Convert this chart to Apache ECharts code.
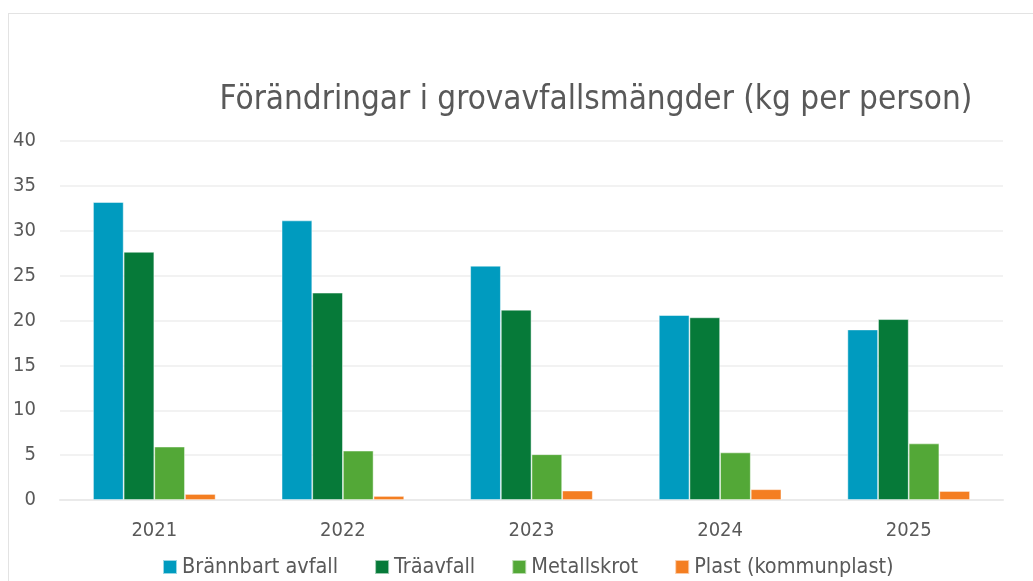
<!DOCTYPE html>
<html>
<head>
<meta charset="utf-8">
<script src="https://cdn.jsdelivr.net/npm/echarts@6/dist/echarts.min.js"></script>
<style>
    html, body { margin: 0; padding: 0; background: #fff; }
    #frame {
        position: absolute; left: 8px; top: 13px;
        width: 1100px; height: 620px;
        border: 1px solid #e3e3e3;
        box-sizing: border-box;
    }
    #chart { position: absolute; left: 0; top: 0; width: 1033px; height: 581px; }
</style>
</head>
<body>
<div id="frame"></div>
<div id="chart"></div>
<script>
var years = ['2021', '2022', '2023', '2024', '2025'];
var seriesNames = ['Brännbart avfall', 'Träavfall', 'Metallskrot', 'Plast (kommunplast)'];
var brannbart = [33.2, 31.15, 26.1, 20.6, 19.0];
var traavfall = [27.65, 23.1, 21.2, 20.35, 20.15];
var metallskrot = [5.95, 5.5, 5.1, 5.3, 6.3];
var plast = [0.67, 0.45, 1.05, 1.2, 1.0];
var yTicks = [0, 5, 10, 15, 20, 25, 30, 35, 40];

var colors = ['#009bbf', '#067a39', '#53a837', '#f47e21'];
var font = '"DejaVu Sans Condensed", "Liberation Sans Narrow", "Noto Sans", sans-serif';

function bar(name, data) {
    return {
        name: name,
        type: 'bar',
        data: data,
        barGap: '0%',
        barCategoryGap: '35%',
        itemStyle: { borderColor: 'rgba(255,255,255,0.6)', borderWidth: 0.8 }
    };
}

var option = {
    animation: false,
    color: colors,
    title: {
        text: 'Förändringar i grovavfallsmängder (kg per person)',
        left: 591,
        top: 79,
        textAlign: 'center',
        textStyle: { fontFamily: font, fontSize: 33, fontWeight: 'normal', color: '#595959' }
    },
    legend: {
        data: seriesNames,
        left: 157,
        top: 551,
        itemWidth: 14,
        itemHeight: 14,
        itemGap: 36,
        icon: 'rect',
        textStyle: { fontFamily: font, fontSize: 21.5, color: '#595959' }
    },
    grid: { left: 60, right: 30, top: 141, bottom: 81, containLabel: false },
    xAxis: {
        type: 'category',
        data: years,
        axisLine: { show: true, lineStyle: { color: '#eaeaea', width: 2 } },
        axisTick: { show: false },
        axisLabel: { fontFamily: font, fontSize: 20, color: '#595959', margin: 21 }
    },
    yAxis: {
        type: 'value',
        min: yTicks[0],
        max: yTicks[yTicks.length - 1],
        interval: 5,
        axisLine: { show: false },
        axisTick: { show: false },
        axisLabel: { fontFamily: font, fontSize: 20, color: '#595959', margin: 24 },
        splitLine: { lineStyle: { color: '#eeeeee', width: 1.5 } }
    },
    series: [
        bar(seriesNames[0], brannbart),
        bar(seriesNames[1], traavfall),
        bar(seriesNames[2], metallskrot),
        bar(seriesNames[3], plast)
    ]
};

var myChart = echarts.init(document.getElementById('chart'));
myChart.setOption(option);
</script>
</body>
</html>
